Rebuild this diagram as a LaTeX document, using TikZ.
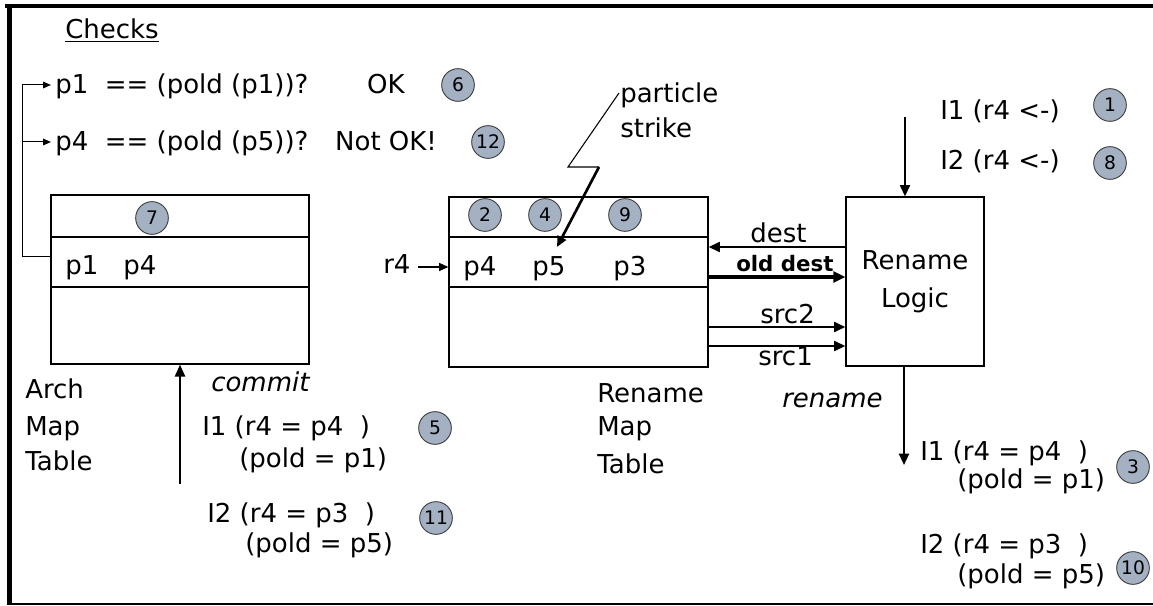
\documentclass[tikz,border=0pt]{standalone}
\usepackage{fontspec}
\setmainfont{DejaVu Sans}
\usetikzlibrary{arrows.meta}
\definecolor{numfill}{HTML}{A3B1C2}
\begin{document}
\begin{tikzpicture}[x=0.75pt,y=-0.75pt,
  txt/.style={anchor=base west, inner sep=0pt, font=\fontsize{19.5}{24}\selectfont},
  btxt/.style={anchor=base west, inner sep=0pt, font=\fontsize{16}{20}\selectfont\bfseries},
  num/.style={circle, draw=black!75, line width=0.7pt, fill=numfill, minimum size=24.5pt, inner sep=0pt, font=\fontsize{14}{14}\selectfont},
  tbl/.style={draw, line width=0.9pt, inner sep=0pt},
  thinarr/.style={line width=0.75pt, -{Triangle[length=6pt,width=5pt]}},
  arr/.style={line width=1.6pt, -{Triangle[length=8.5pt,width=7.5pt]}},
  boldarr/.style={line width=2.4pt, -{Triangle[length=9pt,width=8pt]}}]
\useasboundingbox (0,0) rectangle (1153,606);
% frame
\draw[line width=3pt] (5,6.5) -- (1153,6.5);
\draw[line width=3.75pt] (9,5) -- (9,605);
\draw[line width=1.1pt] (7,604) -- (1153,604);

% checks
\node[txt] (checks) at (65,39) {\underline{Checks}};
\node[txt] (chk1) at (55,94) {p1 \ == (pold (p1))?\hspace{44pt}OK};
\node[num] (n6) at (458,85) {6};
\node[txt] (chk2) at (55,151) {p4 \ == (pold (p5))?\hspace{20pt}Not OK!};
\node[num] (n12) at (488,142) {12};

% arch map table
\node[tbl, minimum width=193.5pt, minimum height=126.75pt] (amt) at (180,279.5) {};
\draw[line width=0.9pt] (51,237) -- (309,237);
\draw[line width=0.9pt] (51,287) -- (309,287);
\node[num] (n7) at (152,218) {7};
\node[txt] (ap1) at (65,274) {p1};
\node[txt] (ap4) at (123,274) {p4};
\node[txt] (arch) at (25,398) {Arch};
\node[txt] (amap) at (25,435) {Map};
\node[txt] (atab) at (25,470) {Table};

% check connectors
\coordinate (cy) at (0,256);
\coordinate (ck) at (22,256);
\coordinate (c1) at (51,85);
\coordinate (c2) at (51,142);
\draw[line width=0.75pt] (amt.west |- cy) -- (ck) -- (ck |- c1);
\draw[thinarr] (ck |- c1) -- (c1);
\draw[thinarr] (ck |- c2) -- (c2);

% commit
\coordinate (cs) at (180,484);
\draw[line width=1.8pt, -{Triangle[length=9pt,width=7.5pt]}] (cs) -- (cs |- amt.south);
\node[txt, font=\fontsize{19.5}{24}\selectfont\itshape] (commit) at (211,391) {commit};
\node[txt] (ci1) at (202,435) {I1 (r4 = p4~~)};
\node[txt] (ci1b) at (239,467) {(pold = p1)};
\node[num] (n5) at (435,428) {5};
\node[txt] (ci2) at (207,522) {I2 (r4 = p3~~)};
\node[txt] (ci2b) at (245,552) {(pold = p5)};
\node[num] (n11) at (436,518) {11};

% rename map table
\node[tbl, minimum width=194.25pt, minimum height=127.5pt] (rmt) at (578.5,282) {};
\draw[line width=0.9pt] (449,237) -- (708,237);
\draw[line width=0.9pt] (449,287) -- (708,287);
\node[num] (n2) at (485,215) {2};
\node[num] (n4) at (545,215) {4};
\node[num] (n9) at (625,215) {9};
\node[txt] (rp4) at (463,275) {p4};
\node[txt] (rp5) at (532,275) {p5};
\node[txt] (rp3) at (613,275) {p3};
\node[txt] (rren) at (597,402) {Rename};
\node[txt] (rmap) at (597,435) {Map};
\node[txt] (rtab) at (597,473) {Table};

% r4 input
\node[txt] (r4) at (383,273) {r4};
\coordinate (r4a) at (418,267);
\draw[line width=1.1pt, -{Triangle[length=7pt,width=6pt]}] (r4a) -- (r4a -| rmt.west);

% particle strike
\node[txt] (part) at (620,103) {particle};
\node[txt] (strike) at (620,138) {strike};
\coordinate (ls0) at (619,93);
\coordinate (ls1) at (568,167);
\coordinate (ls2) at (599,167);
\coordinate (ls3) at (557,247);
\draw[line width=0.8pt] (ls0) -- (ls1) -- (ls2);
\draw[line width=2pt, -{Triangle[length=8pt,width=7pt]}] (ls2) -- (ls3);

% rename logic
\node[tbl, minimum width=103.5pt, minimum height=126.75pt, align=center,
      font=\fontsize{19.5}{28.5}\selectfont] (rl) at (915,281.5) {Rename\\Logic};

% connectors between tables
\coordinate (yd) at (0,247);
\coordinate (yo) at (0,277);
\coordinate (y2) at (0,327);
\coordinate (y1) at (0,346);
\draw[arr] (rl.west |- yd) -- (rmt.east |- yd);
\draw[boldarr] (rmt.east |- yo) -- (rl.west |- yo);
\draw[arr] (rmt.east |- y2) -- (rl.west |- y2);
\draw[arr] (rmt.east |- y1) -- (rl.west |- y1);
\node[txt] (ldest) at (750,243) {dest};
\node[btxt] (lold) at (736,272) {old dest};
\node[txt] (lsrc2) at (760,323) {src2};
\node[txt] (lsrc1) at (758,365) {src1};

% rename logic input
\coordinate (in) at (905,117);
\draw[arr] (in) -- (in |- rl.north);
\node[txt] (ii1) at (940,120) {I1 (r4 <-)};
\node[num] (n1) at (1110,105) {1};
\node[txt] (ii2) at (940,170) {I2 (r4 <-)};
\node[num] (n8) at (1110,163) {8};

% rename output
\coordinate (ro) at (904,465);
\draw[arr] (ro |- rl.south) -- (ro);
\node[txt, font=\fontsize{19.5}{24}\selectfont\itshape] (lren) at (782,407) {rename};
\node[txt] (ro1) at (920,460) {I1 (r4 = p4~~)};
\node[txt] (ro1b) at (957,488) {(pold = p1)};
\node[num] (n3) at (1133,467) {3};
\node[txt] (ro2) at (920,553) {I2 (r4 = p3~~)};
\node[txt] (ro2b) at (957,583) {(pold = p5)};
\node[num] (n10) at (1133,568) {10};
\end{tikzpicture}
\end{document}
